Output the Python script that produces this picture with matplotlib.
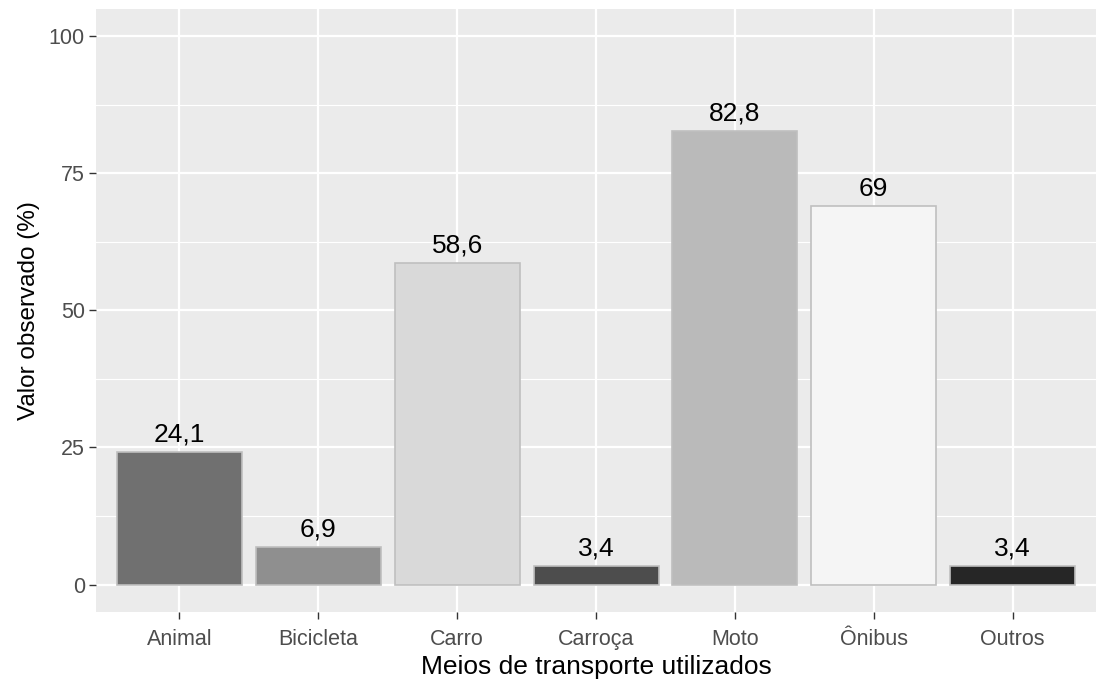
import matplotlib
matplotlib.use("Agg")
import matplotlib.pyplot as plt
import numpy as np

plt.rcParams['font.family'] = ['Liberation Sans', 'DejaVu Sans']

categorias = ['Animal', 'Bicicleta', 'Carro', 'Carroça', 'Moto', 'Ônibus', 'Outros']
valores = [24.1, 6.9, 58.6, 3.4, 82.8, 69, 3.4]
rotulos = ['24,1', '6,9', '58,6', '3,4', '82,8', '69', '3,4']
cores = ['#707070', '#8f8f8f', '#d9d9d9', '#4d4d4d', '#bababa', '#f5f5f5', '#262626']

fig = plt.figure(figsize=(10.96, 6.86), dpi=100)
ax = fig.add_axes([0.0876, 0.108, 0.9124, 0.879])
ax.set_facecolor('#ebebeb')

x = np.arange(len(categorias))
ax.bar(x, valores, width=0.9, color=cores, edgecolor='#bfbfbf', linewidth=1.2, zorder=3)
for xi, v, r in zip(x, valores, rotulos):
    ax.text(xi, v + 1.0, r, ha='center', va='bottom', fontsize=19, color='black', zorder=4)

ax.set_xlim(-0.6, len(categorias) - 0.4)
ax.set_ylim(-5, 105)
ax.set_yticks([0, 25, 50, 75, 100])
ax.set_yticks([12.5, 37.5, 62.5, 87.5], minor=True)
ax.set_xticks(x)
ax.set_xticklabels(categorias)

ax.grid(which='major', color='white', linewidth=1.6, zorder=0)
ax.grid(which='minor', axis='y', color='white', linewidth=0.8, zorder=0)
ax.set_axisbelow(True)
for s in ax.spines.values():
    s.set_visible(False)

ax.tick_params(axis='both', which='major', length=5, width=1, color='#333333',
               labelcolor='#4d4d4d', labelsize=15.5, pad=3)
ax.tick_params(axis='x', which='major', pad=7)
ax.tick_params(axis='y', which='minor', length=0)

ax.set_xlabel('Meios de transporte utilizados', fontsize=19, color='black', labelpad=4)
ax.set_ylabel('Valor observado (%)', fontsize=17.5, color='black', labelpad=6)

fig.savefig('out.png', dpi=100, facecolor='white')
